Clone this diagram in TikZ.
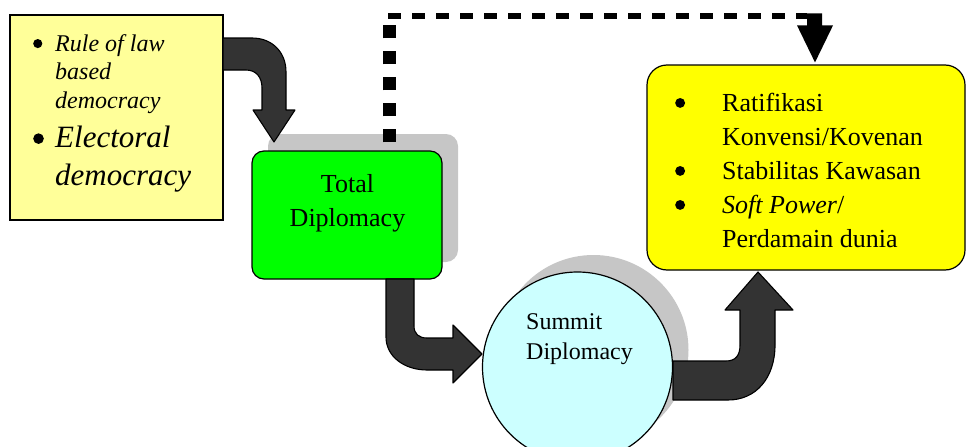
\documentclass[tikz,border=0pt]{standalone}
\usepackage{fontspec}
\setmainfont{Liberation Serif}
\usetikzlibrary{shadows, calc, positioning}

\definecolor{kuningmuda}{HTML}{FFFF99}
\definecolor{hijau}{HTML}{00FF00}
\definecolor{birumuda}{HTML}{CCFFFF}
\definecolor{kuning}{HTML}{FFFF00}
\definecolor{abutua}{HTML}{333333}

% bulatan penanda butir, ukurannya ikut huruf
\newcommand{\titik}{\tikz[baseline=-0.31em]\fill[black] (0,0) circle (0.19em);}

\tikzset{
  kotak/.style={draw=black, line width=1.2pt, inner sep=0pt},
  bayang/.style={general shadow={fill=gray!45, shadow xshift=16pt, shadow yshift=17pt}},
  panah/.style={draw=black, line width=1.1pt, fill=abutua, line join=round},
  teks/.style={inner sep=0pt},
}

\begin{document}
\begin{tikzpicture}[x=1pt, y=-1pt]
    \useasboundingbox (0,0) rectangle (967,447);
    \clip (0,0) rectangle (967,447);

    % kotak
    \node[kotak, fill=kuningmuda, minimum width=213pt, minimum height=205pt] (dasar) at (116.5,117.5) {};
    \node[kotak, bayang, fill=hijau, rounded corners=12pt, minimum width=190pt, minimum height=128pt] (total) at (347,215) {};
    \node[kotak, bayang, circle, fill=birumuda, minimum size=190pt] (summit) at (577.5,367) {};
    \node[kotak, fill=kuning, rounded corners=20pt, minimum width=318pt, minimum height=205pt] (hasil) at (806,167.5) {};

    % panah tebal
    \draw[panah] (223,38) -- (252,38) .. controls (272,38) and (286,52) .. (286,72) -- (286,110)
        -- (295,110) -- (274,142) -- (253,110) -- (262,110) -- (262,88)
        .. controls (262,77) and (256,70) .. (246,70) -- (223,70) -- cycle;
    \draw[panah] (386,279) -- (386,337) .. controls (386,357) and (405,370) .. (427,370) -- (453,370)
        -- (453,383) -- (482,354) -- (453,325) -- (453,338) -- (427,338)
        .. controls (419,338) and (414,334) .. (414,326) -- (414,279) -- cycle;
    \draw[panah] (673,400) -- (728,400) .. controls (756,400) and (775,378) .. (775,345) -- (775,310)
        -- (793,310) -- (758,272) -- (725,310) -- (740,310) -- (740,345)
        .. controls (740,355) and (736,361) .. (726,361) -- (673,361) -- cycle;

    % garis putus-putus
    \coordinate (tiang) at ([xshift=42pt, yshift=8pt]total.north);
    \coordinate (ujung) at ([xshift=9pt, yshift=2pt]hasil.north);
    \coordinate (siku) at ($(tiang)+(-1,-126.5)$);
    \coordinate (belok) at ($(ujung)+(-8,-46.5)$);
    \draw[line width=13pt, dash pattern=on 13pt off 13pt] (tiang) -- ++(0,-118);
    \draw[line width=5.5pt, dash pattern=on 13pt off 11pt] (siku) -- (belok);
    \fill[black] (ujung) -- ++(-18,-37) -- ++(10,0) -- ++(0,-12) -- ++(15,0) -- ++(0,12) -- ++(11,0) -- cycle;

    % isi
    \node[teks, anchor=base west, font=\fontsize{24}{28.5}\selectfont] (isidasar) at (33,51) {%
      \begin{tabular}[t]{@{}p{22pt}@{}l@{}}
        \titik & \itshape Rule of law\\
               & \itshape based\\
               & \itshape democracy\\[9.25pt]
        \fontsize{28}{38}\selectfont\titik & \fontsize{31}{38}\selectfont\itshape Electoral\\[8.25pt]
               & \fontsize{31}{38}\selectfont\itshape democracy
      \end{tabular}};
    \node[teks, anchor=base, font=\fontsize{26}{34}\selectfont] (isitotal) at ($(total.center)+(0.5,-23)$) {%
      \begin{tabular}[t]{@{}c@{}}Total\\Diplomacy\end{tabular}};
    \node[teks, anchor=base west, font=\fontsize{24}{30}\selectfont] (isisummit) at ($(summit.center)+(-51.5,-38)$) {%
      \begin{tabular}[t]{@{}l@{}}Summit\\Diplomacy\end{tabular}};
    \node[teks, anchor=base west, font=\fontsize{26}{34}\selectfont] (isihasil) at (675,111) {%
      \begin{tabular}[t]{@{}p{47pt}@{}l@{}}
        \titik & Ratifikasi\\
               & Konvensi/Kovenan\\
        \titik & Stabilitas Kawasan\\
        \titik & \textit{Soft Power}/\\
               & Perdamain dunia
      \end{tabular}};
\end{tikzpicture}
\end{document}
